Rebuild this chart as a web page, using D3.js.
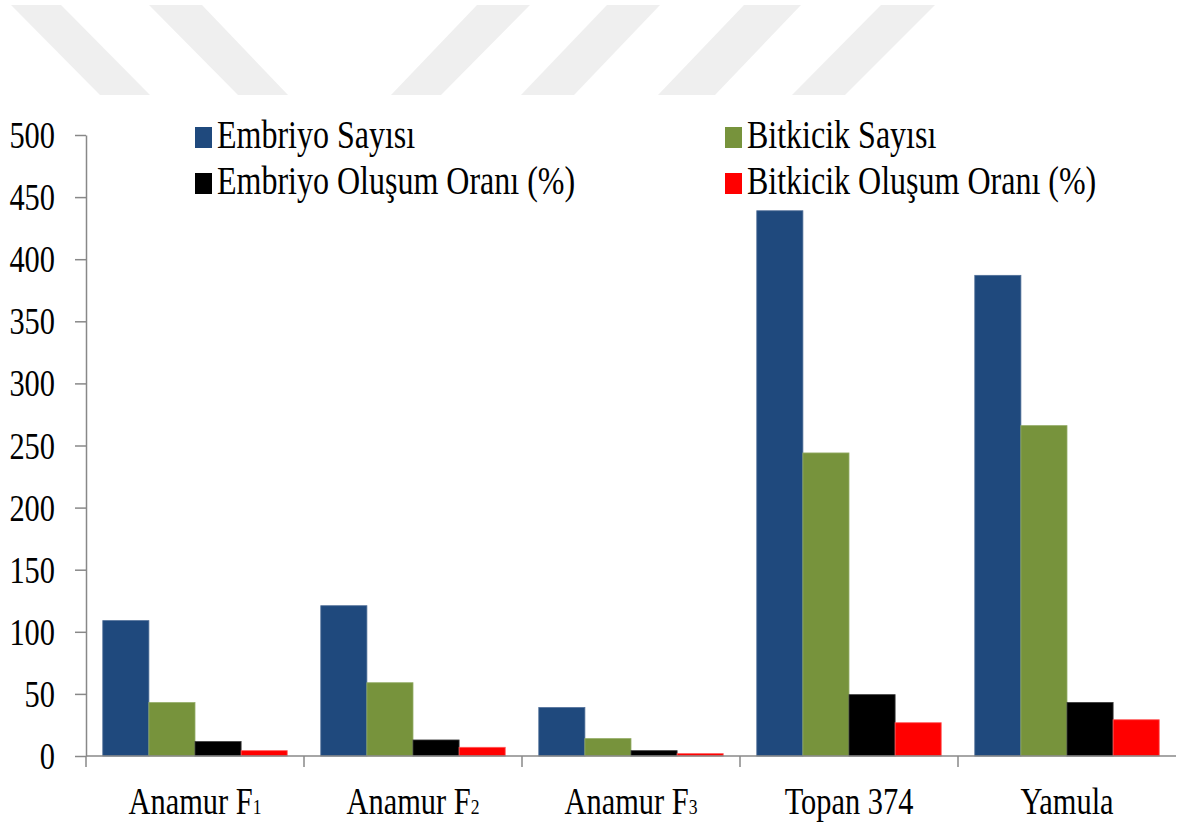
<!DOCTYPE html>
<html>
<head>
<meta charset="utf-8">
<script src="https://cdn.jsdelivr.net/npm/d3@7"></script>
<style>
  body { margin: 0; background: #fff; }
  svg { display: block; }
  text { font-family: "Liberation Serif", "Times New Roman", Tinos, "DejaVu Serif", serif; fill: #000; }
</style>
</head>
<body>
<svg id="chart" width="1184" height="826"></svg>
<script>
// Genotypes (x categories); subscripts are drawn as smaller digits
const categoryNames = ["Anamur F1", "Anamur F2", "Anamur F3", "Topan 374", "Yamula"];
const categoryBase = ["Anamur F", "Anamur F", "Anamur F", "Topan 374", "Yamula"];
const categorySub = ["1", "2", "3", "", ""];

// Series
const seriesNames = ["Embriyo Sayısı", "Bitkicik Sayısı", "Embriyo Oluşum Oranı (%)", "Bitkicik Oluşum Oranı (%)"];
const embriyoSayisi = [109, 121, 39, 439, 387];
const bitkicikSayisi = [43, 59, 14, 244, 266];
const embriyoOrani = [11.6, 12.9, 4.3, 49.4, 43.1];
const bitkicikOrani = [4.3, 7.0, 1.9, 26.8, 29.2];
const seriesValues = [embriyoSayisi, bitkicikSayisi, embriyoOrani, bitkicikOrani];
const seriesColors = ["#1F497D", "#77933C", "#000000", "#FF0000"];
const seriesEdges = ["#4F6E98", "#93AC66", "#3a3a3a", "#FF5a5a"];

// Y axis ticks
const yTicks = [0, 50, 100, 150, 200, 250, 300, 350, 400, 450, 500];

const svg = d3.select("#chart");
const SX = 0.8;          // narrow serif look
const FONT = 38;
const LEGEND_FONT = 40;
const FAMILY = '"Liberation Serif", "Times New Roman", Tinos, "DejaVu Serif", serif';
const axisColor = "#888888";

// light diagonal banner at the top of the page
const stripes = [
  [[11, 5], [61, 5], [150, 95], [100, 95]],
  [[149, 5], [202, 5], [288, 95], [238, 95]],
  [[477, 5], [530, 5], [441, 95], [391, 95]],
  [[607, 5], [660, 5], [574, 95], [521, 95]],
  [[744, 5], [801, 5], [715, 95], [658, 95]],
  [[881, 5], [935, 5], [845, 95], [792, 95]]
];
svg.append("g").selectAll("polygon").data(stripes).join("polygon")
  .attr("points", d => d.map(p => p.join(",")).join(" "))
  .attr("fill", "#efefef");

const x0 = d3.scaleBand().domain(categoryNames).range([86, 1176]).paddingInner(0).paddingOuter(0);
const x1 = d3.scaleBand().domain(seriesNames).range([0, x0.bandwidth()]).paddingInner(0).paddingOuter(0.364);
const y = d3.scaleLinear().domain([0, 500]).range([756, 135]);

// bars
const groups = svg.append("g").selectAll("g").data(categoryNames).join("g")
  .attr("transform", d => `translate(${x0(d)},0)`);
groups.selectAll("rect")
  .data((c, i) => seriesNames.map((s, k) => ({ s, k, v: seriesValues[k][i] })))
  .join("rect")
  .attr("x", d => x1(d.s))
  .attr("width", x1.bandwidth())
  .attr("y", d => y(d.v))
  .attr("height", d => y(0) - y(d.v))
  .attr("fill", d => seriesColors[d.k])
  .attr("stroke", d => seriesEdges[d.k])
  .attr("stroke-width", 0.8);

// y axis
const yAxis = svg.append("g").attr("transform", "translate(86,0)")
  .call(d3.axisLeft(y).tickValues(yTicks).tickSize(11).tickSizeOuter(0).tickPadding(20))
  .attr("font-family", FAMILY);
yAxis.select(".domain").attr("stroke", axisColor).attr("stroke-width", 1.5);
yAxis.selectAll(".tick line").attr("stroke", axisColor).attr("stroke-width", 1.5);
yAxis.selectAll(".tick text")
  .style("font-family", FAMILY)
  .attr("font-size", FONT)
  .attr("fill", "#000")
  .attr("x", -31 / SX)
  .attr("dy", "0.33em")
  .attr("transform", `scale(${SX},1)`);

// x axis line and category separators
const xAxis = svg.append("g");
xAxis.append("line")
  .attr("x1", x0.range()[0]).attr("x2", x0.range()[1])
  .attr("y1", y(0)).attr("y2", y(0))
  .attr("stroke", axisColor).attr("stroke-width", 1.5);
const bounds = categoryNames.map(c => x0(c)).concat([x0.range()[1]]);
xAxis.selectAll("line.sep").data(bounds.slice(0, -1)).join("line")
  .attr("class", "sep")
  .attr("x1", d => d).attr("x2", d => d)
  .attr("y1", y(0)).attr("y2", y(0) + 11)
  .attr("stroke", axisColor).attr("stroke-width", 1.5);

// category labels
const lab = xAxis.selectAll("text.cat").data(categoryNames).join("text")
  .attr("class", "cat")
  .style("font-family", FAMILY)
  .attr("transform", d => `translate(${x0(d) + x0.bandwidth() / 2},814) scale(${SX},1)`)
  .attr("text-anchor", "middle")
  .attr("font-size", FONT);
lab.append("tspan").text((d, i) => categoryBase[i]);
lab.append("tspan").attr("font-size", 22).text((d, i) => categorySub[i]);

// legend (two columns, two rows)
const legendPos = [[195, 126], [725, 126], [195, 172], [725, 172]];
const legendOrder = [0, 1, 2, 3];
const leg = svg.append("g").selectAll("g").data(legendOrder).join("g")
  .attr("transform", (d, i) => `translate(${legendPos[i][0]},${legendPos[i][1]})`);
leg.append("rect")
  .attr("width", 17).attr("height", 21)
  .attr("y", 1)
  .attr("fill", d => seriesColors[d]);
leg.append("text")
  .style("font-family", FAMILY)
  .attr("transform", `translate(22,22) scale(${SX},1)`)
  .attr("font-size", LEGEND_FONT)
  .text(d => seriesNames[d]);
</script>
</body>
</html>
